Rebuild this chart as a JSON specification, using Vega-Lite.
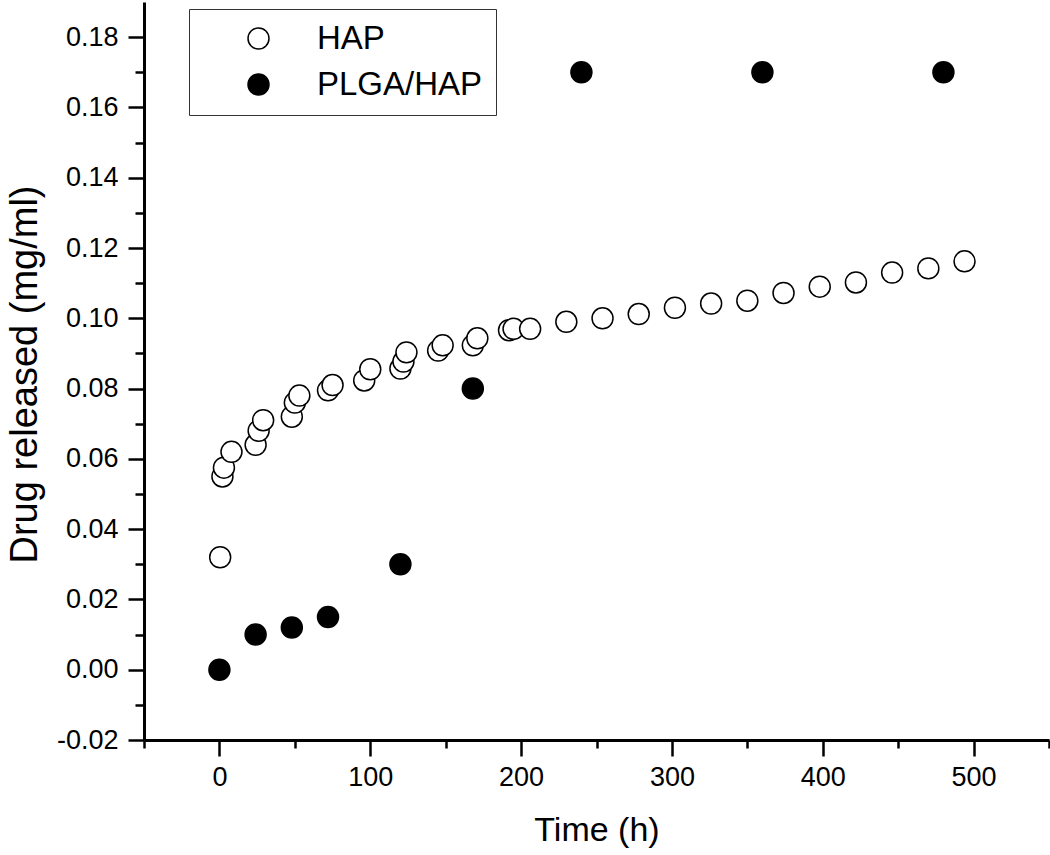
{
  "$schema": "https://vega.github.io/schema/vega-lite/v6.json",
  "autosize": {"type": "none"},
  "width": 905,
  "height": 738,
  "padding": {"left": 144, "top": 2, "right": 1, "bottom": 115},
  "background": "white",
  "config": {
    "view": {"stroke": null},
    "font": "Liberation Sans",
    "axis": {
      "domainColor": "black", "domainWidth": 3, "tickColor": "black", "tickWidth": 2.5,
      "labelFont": "Liberation Sans", "labelFontSize": 27, "labelColor": "black",
      "titleFont": "Liberation Sans", "titleFontWeight": "normal", "titleColor": "black",
      "grid": false
    }
  },
  "data": {"values": [
    {"series": "HAP", "t": 0.5, "v": 0.032},
    {"series": "HAP", "t": 2, "v": 0.055},
    {"series": "HAP", "t": 3, "v": 0.0575},
    {"series": "HAP", "t": 8, "v": 0.062},
    {"series": "HAP", "t": 24, "v": 0.064},
    {"series": "HAP", "t": 26, "v": 0.068},
    {"series": "HAP", "t": 29, "v": 0.071},
    {"series": "HAP", "t": 48, "v": 0.072},
    {"series": "HAP", "t": 50, "v": 0.076},
    {"series": "HAP", "t": 53, "v": 0.078},
    {"series": "HAP", "t": 72, "v": 0.0795},
    {"series": "HAP", "t": 75, "v": 0.081},
    {"series": "HAP", "t": 96, "v": 0.0823},
    {"series": "HAP", "t": 100, "v": 0.0855},
    {"series": "HAP", "t": 120, "v": 0.0857},
    {"series": "HAP", "t": 122, "v": 0.0877},
    {"series": "HAP", "t": 124, "v": 0.0903},
    {"series": "HAP", "t": 145, "v": 0.0908},
    {"series": "HAP", "t": 148, "v": 0.0923},
    {"series": "HAP", "t": 168, "v": 0.0923},
    {"series": "HAP", "t": 171, "v": 0.0943},
    {"series": "HAP", "t": 192, "v": 0.0966},
    {"series": "HAP", "t": 195, "v": 0.097},
    {"series": "HAP", "t": 206, "v": 0.097},
    {"series": "HAP", "t": 230, "v": 0.099},
    {"series": "HAP", "t": 254, "v": 0.1},
    {"series": "HAP", "t": 278, "v": 0.1012},
    {"series": "HAP", "t": 302, "v": 0.103},
    {"series": "HAP", "t": 326, "v": 0.1042},
    {"series": "HAP", "t": 350, "v": 0.105},
    {"series": "HAP", "t": 374, "v": 0.1072},
    {"series": "HAP", "t": 398, "v": 0.109},
    {"series": "HAP", "t": 422, "v": 0.1102},
    {"series": "HAP", "t": 446, "v": 0.113},
    {"series": "HAP", "t": 470, "v": 0.1142},
    {"series": "HAP", "t": 494, "v": 0.1162},
    {"series": "PLGA/HAP", "t": 0, "v": 0},
    {"series": "PLGA/HAP", "t": 24, "v": 0.01},
    {"series": "PLGA/HAP", "t": 48, "v": 0.012},
    {"series": "PLGA/HAP", "t": 72, "v": 0.015},
    {"series": "PLGA/HAP", "t": 120, "v": 0.03},
    {"series": "PLGA/HAP", "t": 168, "v": 0.08},
    {"series": "PLGA/HAP", "t": 240, "v": 0.17},
    {"series": "PLGA/HAP", "t": 360, "v": 0.17},
    {"series": "PLGA/HAP", "t": 480, "v": 0.17}
  ]},
  "mark": {"type": "point", "shape": "circle", "filled": true, "stroke": "black", "strokeWidth": 1.5, "size": 440, "opacity": 1},
  "encoding": {
    "x": {
      "field": "t", "type": "quantitative",
      "scale": {"domain": [-50, 550], "nice": false, "zero": false},
      "axis": {
        "title": "Time (h)", "titleFontSize": 34, "titlePadding": 23,
        "values": [-50, 0, 50, 100, 150, 200, 250, 300, 350, 400, 450, 500, 550],
        "labelExpr": "datum.value % 100 === 0 ? datum.label : ''",
        "tickSize": {"condition": {"test": "datum.value % 100 === 0", "value": 16}, "value": 8},
        "labelPadding": 8, "labelFlush": false, "labelOverlap": false
      }
    },
    "y": {
      "field": "v", "type": "quantitative",
      "scale": {"domain": [-0.02, 0.19], "nice": false, "zero": false},
      "axis": {
        "title": "Drug released (mg/ml)", "titleFontSize": 38,
        "titleX": -100, "titleY": 372, "titleBaseline": "bottom", "titleAngle": -90, "titleAlign": "center",
        "values": [-0.02, -0.01, 0, 0.01, 0.02, 0.03, 0.04, 0.05, 0.06, 0.07, 0.08, 0.09, 0.1, 0.11, 0.12, 0.13, 0.14, 0.15, 0.16, 0.17, 0.18],
        "labelExpr": "round(datum.value * 100) % 2 === 0 ? (datum.value < 0 ? '-' : '') + format(abs(datum.value), '.2f') : ''",
        "tickSize": {"condition": {"test": "round(datum.value * 100) % 2 === 0", "value": 16}, "value": 9},
        "labelPadding": 10, "labelFlush": false, "labelOverlap": false
      }
    },
    "fill": {
      "field": "series", "type": "nominal",
      "scale": {"domain": ["HAP", "PLGA/HAP"], "range": ["white", "black"]},
      "legend": {
        "title": null, "orient": "none", "legendX": 45, "legendY": 7,
        "strokeColor": "#333", "fillColor": "white", "padding": 13,
        "labelFontSize": 33, "labelFont": "Liberation Sans", "labelColor": "black",
        "symbolType": "circle", "symbolSize": 440, "symbolStrokeColor": "black", "symbolStrokeWidth": 1.5,
        "symbolOffset": 40, "labelOffset": 42, "rowPadding": 12, "labelLimit": 400
      }
    }
  }
}
